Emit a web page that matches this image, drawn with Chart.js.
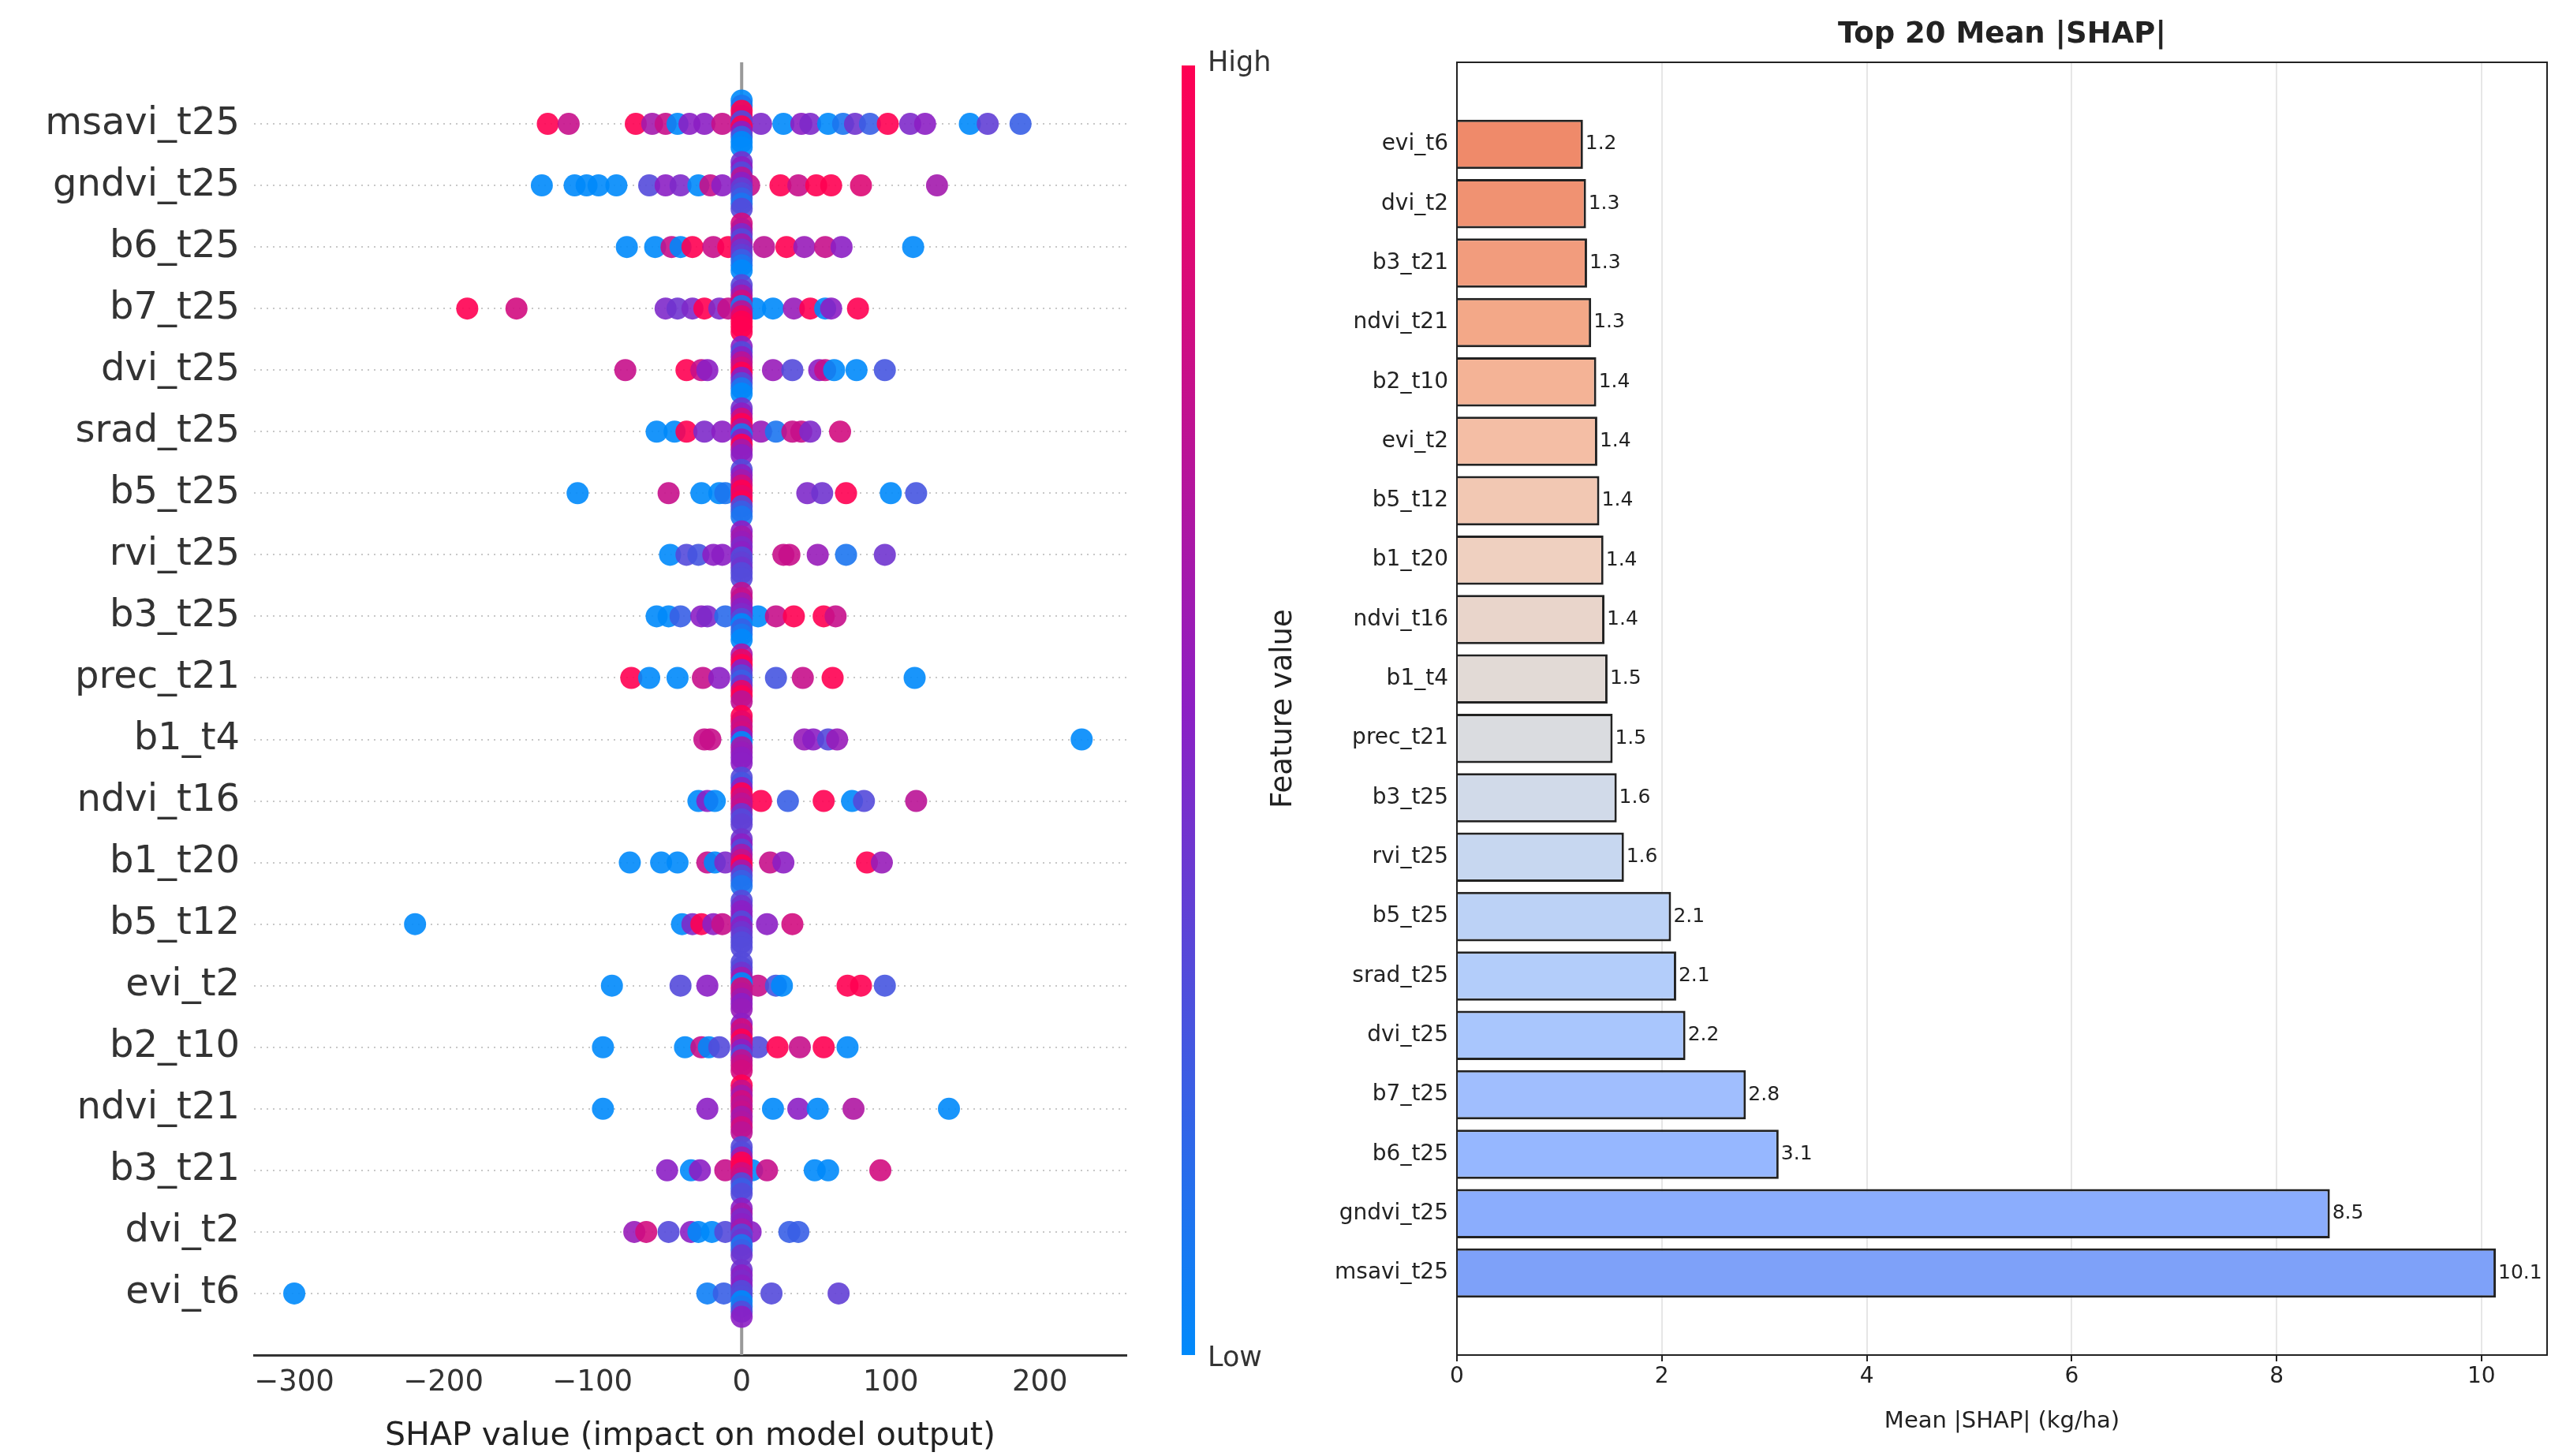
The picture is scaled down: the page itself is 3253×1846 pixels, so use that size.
<!DOCTYPE html>
<html>
<head>
<meta charset="utf-8">
<script src="https://cdn.jsdelivr.net/npm/chart.js@4.4.1/dist/chart.umd.min.js"></script>
<style>
  body { margin: 0; background: #fff; width: 3253px; height: 1846px; position: relative; overflow: hidden; font-family: "DejaVu Sans", sans-serif; }
  canvas { position: absolute; top: 0; }
  #bar { position: absolute; left: 1498px; top: 83px; width: 17px; height: 1635px;
         background: linear-gradient(#ff0052, #8c1fc4 50%, #008afb); }
  .cb { position: absolute; left: 1531px; font-size: 35px; color: #333; }
</style>
</head>
<body>
<canvas id="swarm" style="left:0;width:1560px;height:1846px" width="1560" height="1846"></canvas>
<div id="bar"></div>
<div class="cb" style="top:58px">High</div>
<div class="cb" style="top:1700px">Low</div>
<canvas id="bars" style="left:1560px;width:1693px;height:1846px" width="1693" height="1846"></canvas>
<script>
// left: features from top to bottom
const swarmFeatures = ["msavi_t25", "gndvi_t25", "b6_t25", "b7_t25", "dvi_t25", "srad_t25", "b5_t25", "rvi_t25",
  "b3_t25", "prec_t21", "b1_t4", "ndvi_t16", "b1_t20", "b5_t12", "evi_t2", "b2_t10", "ndvi_t21", "b3_t21", "dvi_t2", "evi_t6"];

// SHAP values of the spread-out points per feature
const shapX = [
  [-130, -116, -71, -60, -51, -43, -35, -25, -13, 13, 28, 40, 46, 58, 68, 76, 86, 98, 113, 123, 153, 165, 187],
  [-134, -112, -104, -96, -84, -62, -51, -41, -29, -21, -13, 5, 26, 38, 50, 60, 80, 131],
  [-77, -58, -47, -41, -33, -19, -9, 15, 30, 42, 56, 67, 115],
  [-184, -151, -51, -43, -33, -25, -15, -9, 9, 21, 35, 46, 56, 60, 78],
  [-78, -37, -27, -23, 21, 34, 52, 56, 62, 77, 96],
  [-57, -45, -37, -25, -13, 13, 23, 34, 40, 46, 66],
  [-110, -49, -27, -15, -11, 44, 54, 70, 100, 117],
  [-48, -37, -29, -19, -13, 28, 32, 51, 70, 96],
  [-57, -49, -41, -27, -23, -11, 11, 23, 35, 55, 63],
  [-74, -62, -43, -26, -15, 23, 41, 61, 116],
  [-25, -21, 42, 48, 58, 64, 228],
  [-29, -23, -18, 13, 31, 55, 74, 82, 117],
  [-75, -54, -43, -23, -18, -11, 19, 28, 84, 94],
  [-219, -40, -33, -27, -19, -13, 17, 34],
  [-87, -41, -23, 11, 23, 27, 71, 80, 96],
  [-93, -38, -27, -22, -15, 11, 24, 39, 55, 71],
  [-93, -23, 21, 38, 51, 75, 139],
  [-50, -34, -28, -11, 7, 17, 49, 58, 93],
  [-72, -64, -49, -34, -29, -20, -11, 6, 32, 38],
  [-300, -23, -12, 20, 65]
];
// feature value (0 = low, 1 = high) of those points
const shapC = [
  [1, 0.75, 1, 0.6, 0.75, 0, 0.5, 0.5, 0.75, 0.45, 0, 0.5, 0.45, 0, 0.1, 0.4, 0.2, 1, 0.45, 0.5, 0, 0.35, 0.2],
  [0, 0, 0, 0, 0, 0.3, 0.5, 0.45, 0, 0.75, 0.5, 0.75, 1, 0.75, 1, 1, 0.85, 0.6],
  [0, 0, 0.75, 0, 1, 0.75, 1, 0.7, 1, 0.55, 0.75, 0.5, 0],
  [1, 0.8, 0.45, 0.4, 0.45, 1, 0.45, 0.75, 0, 0, 0.55, 1, 0, 0.5, 1],
  [0.75, 1, 0.75, 0.5, 0.55, 0.3, 0.5, 0.75, 0, 0, 0.25],
  [0, 0, 1, 0.45, 0.5, 0.55, 0.1, 0.75, 0.75, 0.45, 0.8],
  [0, 0.75, 0, 0, 0.1, 0.45, 0.4, 1, 0, 0.25],
  [0, 0.3, 0.25, 0.5, 0.5, 0.75, 0.75, 0.55, 0.1, 0.4],
  [0, 0, 0.2, 0.5, 0.45, 0.15, 0, 0.75, 1, 1, 0.75],
  [1, 0, 0, 0.75, 0.5, 0.25, 0.75, 1, 0],
  [0.75, 0.75, 0.55, 0.5, 0.3, 0.55, 0],
  [0, 0.5, 0, 1, 0.2, 1, 0, 0.3, 0.7],
  [0, 0, 0, 0.75, 0, 0.45, 0.75, 0.5, 1, 0.55],
  [0, 0, 0.45, 1, 0.5, 0.75, 0.5, 0.8],
  [0, 0.3, 0.5, 0.75, 0.25, 0, 1, 1, 0.25],
  [0, 0, 0.75, 0, 0.3, 0.3, 1, 0.75, 1, 0],
  [0, 0.5, 0, 0.5, 0, 0.65, 0],
  [0.5, 0, 0.5, 0.75, 0, 0.75, 0, 0, 0.8],
  [0.55, 0.8, 0.3, 0.5, 0, 0, 0.3, 0.5, 0.2, 0.2],
  [0, 0.05, 0.2, 0.3, 0.35]
];
// feature values of the points stacked at SHAP = 0
const zeroC = [
  [0, 0.1, 1, 0.9, 0.3, 1, 0.5, 0.2, 0, 0],
  [0.4, 0.5, 0.3, 0.7, 0.5, 0.35, 0.3, 0.2, 0.1, 0.3],
  [0.8, 0.7, 0.45, 0.3, 0.6, 0.4, 0.35, 0.2, 0.1, 0],
  [0.3, 0.4, 0.6, 0.8, 0.1, 0.7, 0.9, 1, 1, 1],
  [0.5, 0.3, 0.5, 0.7, 0.8, 1, 0.5, 0.3, 0.1, 0],
  [0.4, 0.5, 0.8, 1, 0.7, 0.1, 0.5, 1, 0.6, 0.5],
  [0.3, 0.5, 0.6, 0.8, 1, 0.9, 1, 0.3, 0.2, 0.1],
  [0.5, 0.6, 0.55, 0.45, 0.5, 0.3, 0.35, 0.4, 0.3, 0.3],
  [0.7, 0.75, 0.6, 0.5, 0.45, 0.3, 0, 0.2, 0.1, 0],
  [0.6, 0.9, 1, 0.5, 0.3, 0.2, 0.4, 0.9, 1, 0.7],
  [1, 0.9, 0.75, 0.8, 0.5, 0, 0.6, 0.55, 0.5, 0.5],
  [0.3, 0.25, 0.5, 1, 0.8, 0.7, 0.75, 0.4, 0.3, 0.35],
  [0.4, 0.5, 0.3, 0.6, 0.75, 1, 0.6, 0.3, 0.2, 0.1],
  [0.3, 0.4, 0.5, 0.5, 0.3, 0.5, 0.4, 0.35, 0.3, 0.3],
  [0.3, 0.3, 0.4, 0.6, 0, 0.8, 0.7, 0.6, 0.5, 0.55],
  [0.5, 0.8, 0.7, 1, 0.7, 0.5, 0.3, 0.7, 0.75, 0.8],
  [1, 0.75, 0.6, 0.8, 0.7, 0.75, 0.6, 0.65, 0.8, 0.7],
  [0.3, 0.3, 0.6, 1, 1, 0.8, 0.75, 0.3, 0.2, 0.3],
  [0.5, 0.6, 0.45, 0.5, 0.6, 0.3, 0.4, 0.1, 0.2, 0.4],
  [0.4, 0.5, 0.45, 0.5, 0.3, 0.3, 0, 0.1, 0.3, 0.5]
];
const swarmTicks = [-300, -200, -100, 0, 100, 200];

// right: bars from top to bottom
const barFeatures = ["evi_t6", "dvi_t2", "b3_t21", "ndvi_t21", "b2_t10", "evi_t2", "b5_t12", "b1_t20", "ndvi_t16", "b1_t4",
  "prec_t21", "b3_t25", "rvi_t25", "b5_t25", "srad_t25", "dvi_t25", "b7_t25", "b6_t25", "gndvi_t25", "msavi_t25"];
const meanShap = [1.23, 1.26, 1.27, 1.31, 1.36, 1.37, 1.39, 1.43, 1.44, 1.47,
  1.52, 1.56, 1.63, 2.09, 2.14, 2.23, 2.82, 3.14, 8.52, 10.14];
const barColors = ["#ef8a6a", "#f09272", "#f29c7d", "#f3a888", "#f4b396", "#f4bea5", "#f2c8b3", "#efd0c0", "#e9d5cb", "#e2dad6",
  "#dadce0", "#d1dae9", "#c7d7f0", "#bcd2f6", "#b3cdfa", "#a9c6fd", "#a0befe", "#96b7ff", "#8badfd", "#7ea1f9"];

function shapColor(c) {
  // blue -> purple -> red
  const a = [0, 138, 251], m = [140, 31, 196], b = [255, 0, 82];
  const p = c < 0.5 ? a : m, q = c < 0.5 ? m : b, t = c < 0.5 ? c * 2 : (c - 0.5) * 2;
  const r = p.map((v, i) => Math.round(v + (q[i] - v) * t));
  return `rgba(${r[0]},${r[1]},${r[2]},0.9)`;
}

const pts = [];
swarmFeatures.forEach((f, i) => {
  zeroC[i].forEach((c, k) => {
    const n = zeroC[i].length;
    pts.push({ x: 0, y: i - 0.38 + 0.76 * k / (n - 1), c });
  });
  shapX[i].forEach((x, k) => pts.push({ x, y: i, c: shapC[i][k] }));
});
// draw stacks on top of line points like the swarm
pts.sort((p, q) => (p.x === 0) - (q.x === 0));

const zeroLine = {
  id: 'zeroLine',
  beforeDatasetsDraw(chart) {
    const { ctx, chartArea, scales } = chart;
    const x = scales.x.getPixelForValue(0);
    ctx.save();
    ctx.strokeStyle = '#999';
    ctx.lineWidth = 4;
    ctx.beginPath();
    ctx.moveTo(x, chartArea.top);
    ctx.lineTo(x, chartArea.bottom);
    ctx.stroke();
    ctx.restore();
  }
};

new Chart(document.getElementById('swarm'), {
  type: 'scatter',
  data: { datasets: [{
    data: pts,
    pointRadius: 14,
    pointBorderWidth: 0,
    backgroundColor: pts.map(p => shapColor(p.c))
  }] },
  options: {
    responsive: false, animation: false, devicePixelRatio: 1,
    layout: { padding: { top: 79, right: 132 } },
    plugins: { legend: { display: false }, tooltip: { enabled: false } },
    scales: {
      x: {
        min: -327, max: 258,
        afterBuildTicks: s => { s.ticks = swarmTicks.map(v => ({ value: v })); },
        afterFit: s => { s.height = 128; },
        grid: { display: false, drawTicks: true, tickLength: 10 },
        border: { color: '#333', width: 3 },
        ticks: { color: '#333', font: { size: 37, family: 'DejaVu Sans' }, callback: v => String(v).replace('-', '\u2212') },
        title: { display: true, text: 'SHAP value (impact on model output)', color: '#222', font: { size: 41, family: 'DejaVu Sans' }, padding: 0 }
      },
      y: {
        min: -1, max: 20, reverse: true,
        afterBuildTicks: s => { s.ticks = swarmFeatures.map((f, i) => ({ value: i })); },
        afterFit: s => { s.width = 322; },
        border: { display: false, dash: [2, 6] },
        grid: { color: '#c8c8c8', lineWidth: 2, tickLength: 0 },
        ticks: { color: '#333', padding: 18, font: { size: 48, family: 'DejaVu Sans' }, callback: v => swarmFeatures[v] }
      }
    }
  },
  plugins: [zeroLine]
});

const barExtras = {
  id: 'barExtras',
  afterDatasetsDraw(chart) {
    const { ctx, chartArea } = chart;
    ctx.save();
    ctx.fillStyle = '#222';
    ctx.font = '25px "DejaVu Sans"';
    ctx.textBaseline = 'middle';
    chart.getDatasetMeta(0).data.forEach((bar, i) => {
      ctx.fillText(meanShap[i].toFixed(1), bar.x + 3, bar.y);
    });
    ctx.strokeStyle = '#222';
    ctx.lineWidth = 2;
    ctx.strokeRect(chartArea.left, chartArea.top, chartArea.right - chartArea.left, chartArea.bottom - chartArea.top);
    ctx.font = 'bold 37px "DejaVu Sans"';
    ctx.textAlign = 'center';
    ctx.fillText('Top 20 Mean |SHAP|', (chartArea.left + chartArea.right) / 2, 44);
    ctx.restore();
  }
};

new Chart(document.getElementById('bars'), {
  type: 'bar',
  data: { datasets: [{
    data: meanShap.map((v, i) => ({ x: v, y: i })),
    backgroundColor: barColors,
    borderColor: '#222',
    borderWidth: 3,
    barPercentage: 0.83,
    categoryPercentage: 1
  }] },
  options: {
    indexAxis: 'y',
    responsive: false, animation: false, devicePixelRatio: 1,
    layout: { padding: { top: 79, right: 24, left: 45, bottom: 22 } },
    plugins: { legend: { display: false }, tooltip: { enabled: false } },
    scales: {
      x: {
        type: 'linear', min: 0, max: 10.64,
        afterBuildTicks: s => { s.ticks = [0, 2, 4, 6, 8, 10].map(v => ({ value: v })); },
        afterFit: s => { s.height = 106; },
        grid: { color: '#e6e6e6', lineWidth: 2, tickColor: '#222', tickLength: 8 },
        border: { display: false },
        ticks: { color: '#222', font: { size: 28, family: 'DejaVu Sans' } },
        title: { display: true, text: 'Mean |SHAP| (kg/ha)', color: '#222', font: { size: 29, family: 'DejaVu Sans' }, padding: { top: 4 } }
      },
      y: {
        type: 'linear', min: -1.38, max: 20.38, reverse: true, offset: false,
        afterBuildTicks: s => { s.ticks = barFeatures.map((f, i) => ({ value: i })); },
        afterFit: s => { s.width = 242; },
        grid: { display: false, drawTicks: true, tickLength: 8, tickColor: '#222' },
        border: { display: false },
        ticks: { color: '#222', font: { size: 28, family: 'DejaVu Sans' }, callback: v => barFeatures[v] },
        title: { display: true, text: 'Feature value', color: '#222', font: { size: 37, family: 'DejaVu Sans' }, padding: 0 }
      }
    }
  },
  plugins: [barExtras]
});
</script>
</body>
</html>
